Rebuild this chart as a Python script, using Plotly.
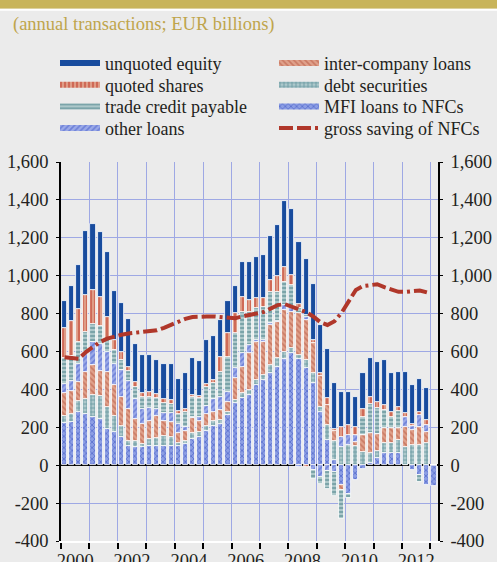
import plotly.graph_objects as go

# ---------------- data (EUR billions, annual transactions, quarterly) ----------------
quarters = [f"{y}Q{q}" for y in range(2000, 2014) for q in range(1, 5)][:53]
year_labels = ["2000", "2002", "2004", "2006", "2008", "2010", "2012"]
y_tick_vals = [-400, -200, 0, 200, 400, 600, 800, 1000, 1200, 1400, 1600]
y_tick_text = ["-400", "-200", "0", "200", "400", "600", "800", "1,000", "1,200", "1,400", "1,600"]

unquoted_equity = [141, 189, 229, 337, 351, 342, 346, 258, 261, 249,
                   201, 203, 198, 178, 185, 190, 169, 188, 192, 184,
                   229, 234, 194, 167, 145, 180, 198, 217, 229, 233,
                   265, 344, 347, 331, 300, 294, 255, 254, 245, 182,
                   173, 162, 185, 206, 213, 238, 205, 185, 217, 203,
                   171, 168, 0]
quoted_shares = [156, 181, 177, 194, 176, 153, 114, 53, 44, 25,
                 30, 21, 23, 21, 21, 20, 17, 18, 10, 10,
                 18, 14, 79, 124, 106, 80, 62, 53, 44, 62,
                 88, 79, 53, 21, -10, 14, 14, 40, 10, 53,
                 53, 40, 44, 39, 32, 26, 26, 23, 21, 14,
                 18, 26, 0]
trade_credit = [139, 132, 114, 106, 97, 97, 71, 70, 53, 49,
                61, 61, 57, 58, 50, 50, 53, 79, 106, 103,
                97, 83, 132, 185, 185, 220, 176, 167, 176, 167,
                150, 123, 123, 26, 9, -50, -40, -95, -125, -153,
                -25, 0, 97, 155, 136, 97, 60, 92, 0, 0,
                -35, 0, 0]
other_loans = [46, 53, 97, 106, 123, 141, 106, 115, 141, 150,
               106, 79, 70, 35, 44, 45, 44, 17, 5, 18,
               44, 71, 70, 53, 53, 70, 44, 9, 9, 9,
               5, 26, 18, -8, 15, -25, -60, -30, -35, 53,
               53, 40, 0, 0, 0, 0, 0, 0, 49, 21,
               62, 35, 0]
inter_company = [123, 123, 97, 141, 159, 132, 185, 159, 150, 168,
                 115, 106, 97, 115, 79, 80, 53, 53, 79, 62,
                 62, 44, 49, 53, 115, 141, 194, 203, 176, 211,
                 194, 220, 194, 220, 211, 162, 162, 106, 50, -23,
                 0, 20, 88, 106, 88, 79, 80, 62, 106, 79,
                 97, 62, 0]
debt_securities = [35, 44, 62, 79, 115, 123, 114, 88, 62, 26,
                   35, 18, 35, 44, 53, 50, 17, 18, 32, 26,
                   26, 26, 21, 18, 18, 26, 26, 26, 26, 44,
                   44, 41, 26, 23, 44, 49, 26, 79, 100, 97,
                   106, 100, 70, 53, 40, 53, 55, 70, 97, 106,
                   106, 115, 0]
mfi_loans = [224, 226, 279, 271, 253, 244, 191, 174, 147, 102,
             94, 94, 102, 102, 102, 100, 102, 112, 140, 147,
             183, 209, 220, 264, 326, 353, 370, 423, 450, 485,
             520, 559, 591, 559, 511, 435, 282, 132, 30, -106,
             -150, -80, -20, 9, 37, 62, 62, 62, 0, -25,
             -53, -105, -108]
gross_saving = [570, 565, 562, 597, 623, 650, 668, 680, 688, 695,
                700, 703, 708, 712, 725, 740, 758, 772, 782, 785,
                785, 785, 783, 782, 775, 785, 792, 798, 808, 826,
                845, 850, 835, 818, 808, 785, 755, 740, 760, 805,
                870, 925, 945, 952, 955, 940, 925, 915, 915, 918,
                922, 912]

# quarter label -> position on a continuous year axis (centre of the quarter)
xq = [int(s[:4]) + (int(s[5]) - 0.5) / 4 for s in quarters]
years = list(range(2000, 2014))

# ---------------- styles ----------------
BG = "#ebebeb"
GRID = "#9ea8e4"
FONT = "Liberation Serif"
TXT = "#231f20"
LINE_RED = "#b0372a"
LINE_DASH = "14px,4px,14px,4px,3px,4px"

series = [  # bottom -> top of the stack: (name, values, background, foreground, shape, solidity)
    ("MFI loans to NFCs", mfi_loans, "#8c9ee4", "#3049bd", "x", 0.4),
    ("debt securities", debt_securities, "#adc8cb", "#2a6f7a", "+", 0.4),
    ("inter-company loans", inter_company, "#dfa08a", "#b5523c", "\\", 0.4),
    ("other loans", other_loans, "#9aa9e8", "#4259c8", "/", 0.4),
    ("trade credit payable", trade_credit, "#adc8ca", "#2f6e78", "-", 0.4),
    ("quoted shares", quoted_shares, "#df9c86", "#bd2c1c", "|", 0.45),
    ("unquoted equity", unquoted_equity, "#184c9e", "#184c9e", "", 0.4),
]

fig = go.Figure()
for name, vals, bg, fg, shape, sol in series:
    fig.add_trace(go.Bar(
        x=xq, y=vals, name=name, width=0.18, showlegend=False,
        marker=dict(color=bg, line=dict(color="white", width=0.8),
                    pattern=dict(shape=shape, fgcolor=fg, bgcolor=bg,
                                 size=4, solidity=sol)),
        customdata=quarters, hovertemplate="%{customdata}: %{y}<extra>" + name + "</extra>",
    ))

fig.add_trace(go.Scatter(
    x=xq[:len(gross_saving)], y=gross_saving, name="gross saving of NFCs",
    mode="lines", yaxis="y2", showlegend=False,
    line=dict(color=LINE_RED, width=4, dash=LINE_DASH),
))

# ---------------- legend entries (two columns of four) ----------------
legend_order = [
    ("unquoted equity", 0, 0), ("quoted shares", 0, 1),
    ("trade credit payable", 0, 2), ("other loans", 0, 3),
    ("inter-company loans", 1, 0), ("debt securities", 1, 1),
    ("MFI loans to NFCs", 1, 2), ("gross saving of NFCs", 1, 3),
]
style_by_name = {s[0]: s for s in series}
col_x = [55, 274]
row_y = [63.3, 85.0, 106.7, 128.3]
legend_layout = {}
for k, (name, col, row) in enumerate(legend_order):
    lname = "legend" if k == 0 else f"legend{k + 1}"
    if name in style_by_name:
        _, _, bg, fg, shape, sol = style_by_name[name]
        fig.add_trace(go.Scatter(
            x=[None], y=[None], name=name, mode="none", fill="toself",
            fillcolor=bg, legend=lname, hoverinfo="skip",
            fillpattern=dict(shape=shape, fgcolor=fg, bgcolor=bg, size=4, solidity=sol),
        ))
    else:
        fig.add_trace(go.Scatter(
            x=[None], y=[None], name=name, mode="lines", legend=lname, hoverinfo="skip",
            line=dict(color=LINE_RED, width=4, dash=LINE_DASH),
        ))
    legend_layout[lname] = dict(
        x=col_x[col] / 497, y=1 - row_y[row] / 562, xref="container", yref="container",
        xanchor="left", yanchor="middle", bgcolor="rgba(0,0,0,0)", borderwidth=0,
        itemwidth=40, font=dict(family=FONT, size=18, color=TXT),
    )

W, H = 497, 562
L, R, T, B = 61, 59, 162, 21
pw, ph = W - L - R, H - T - B


def px_x(X):
    return (X - L) / pw


def px_y(Y):
    return (H - B - Y) / ph


fig.update_layout(
    width=W, height=H,
    margin=dict(l=L, r=R, t=T, b=B, autoexpand=False),
    paper_bgcolor=BG, plot_bgcolor=BG,
    barmode="relative", bargap=0,
    font=dict(family=FONT, size=18.5, color=TXT),
    xaxis=dict(
        range=[2000, 2000 + pw / 28.42],
        tickmode="array", tickvals=[int(t) + 0.5 for t in year_labels], ticktext=year_labels,
        ticks="", showgrid=False, zeroline=False,
        showline=True, linecolor="white", linewidth=1.5,
        ticklabelstandoff=2,
        minor=dict(tickmode="array", tickvals=years, ticks="outside", ticklen=6,
                   tickwidth=1.5, tickcolor="black", showgrid=True,
                   gridcolor=GRID, gridwidth=1),
        fixedrange=True, automargin=False,
    ),
    yaxis=dict(
        range=[-400, 1600], tickmode="array", tickvals=y_tick_vals, ticktext=y_tick_text,
        showgrid=True, gridcolor=GRID, gridwidth=1,
        zeroline=True, zerolinecolor="black", zerolinewidth=1.5,
        showline=True, linecolor="black", linewidth=1.5,
        ticks="outside", ticklen=3, tickcolor="black", tickwidth=1,
        ticklabelstandoff=4, fixedrange=True, automargin=False,
    ),
    yaxis2=dict(
        range=[-400, 1600], overlaying="y", side="right", anchor="x",
        tickmode="array", tickvals=y_tick_vals, ticktext=y_tick_text,
        showgrid=False, zeroline=False,
        showline=True, linecolor="black", linewidth=1.5,
        ticks="outside", ticklen=3, tickcolor="black", tickwidth=1,
        ticklabelstandoff=4, fixedrange=True, automargin=False,
    ),
    shapes=[
        dict(type="rect", xref="paper", yref="paper", x0=px_x(-5), x1=px_x(W + 5),
             y0=px_y(8.7), y1=px_y(-5), fillcolor="#c8b45a", line=dict(width=0), layer="below"),
        dict(type="rect", xref="paper", yref="paper", x0=px_x(-5), x1=px_x(W + 5),
             y0=px_y(10.7), y1=px_y(8.7), fillcolor="white", line=dict(width=0), layer="below"),
        dict(type="line", xref="paper", yref="y", x0=0, x1=1, y0=0, y1=0,
             line=dict(color="black", width=1.5), layer="between"),
    ],
    annotations=[
        dict(text="(annual transactions; EUR billions)", xref="paper", yref="paper",
             x=px_x(11), y=px_y(25), xanchor="left", yanchor="middle", showarrow=False,
             font=dict(family=FONT, size=18.5, color="#bfa54c")),
    ],
    **legend_layout,
)

fig.write_html(
    "out.html",
    config={"displayModeBar": False, "staticPlot": False},
    post_script="document.body.style.margin='0px';document.body.style.overflow='hidden';",
)
